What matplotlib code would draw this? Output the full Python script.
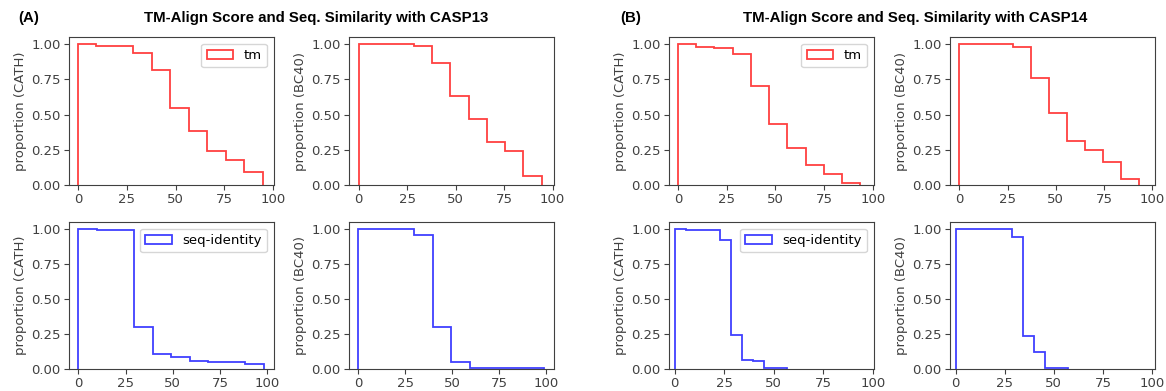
import numpy as np
import matplotlib
matplotlib.use("Agg")
import matplotlib.pyplot as plt

# reverse-cumulative proportions per bin (10 bins each)
# (A) CASP13
a_tm_cath_range = (0.0, 94.7)
a_tm_cath = [1.0, 0.99, 0.99, 0.94, 0.815, 0.55, 0.38, 0.24, 0.175, 0.09]
a_tm_bc40_range = (0.0, 94.4)
a_tm_bc40 = [1.0, 1.0, 1.0, 0.99, 0.865, 0.635, 0.47, 0.305, 0.24, 0.06]
a_seq_cath_range = (0.0, 98.2)
a_seq_cath = [1.0, 0.99, 0.99, 0.30, 0.105, 0.088, 0.057, 0.05, 0.05, 0.04]
a_seq_bc40_range = (0.0, 98.8)
a_seq_bc40 = [1.0, 1.0, 1.0, 0.96, 0.30, 0.048, 0.008, 0.008, 0.008, 0.008]

# (B) CASP14
b_tm_cath_range = (0.0, 93.5)
b_tm_cath = [1.0, 0.98, 0.97, 0.93, 0.70, 0.43, 0.26, 0.14, 0.075, 0.016]
b_tm_bc40_range = (0.0, 93.1)
b_tm_bc40 = [1.0, 1.0, 1.0, 0.98, 0.76, 0.51, 0.31, 0.25, 0.16, 0.045]
b_seq_cath_range = (0.0, 56.5)
b_seq_cath = [1.0, 0.99, 0.99, 0.99, 0.92, 0.245, 0.065, 0.055, 0.01, 0.01]
b_seq_bc40_range = (0.0, 57.0)
b_seq_bc40 = [1.0, 1.0, 1.0, 1.0, 1.0, 0.94, 0.24, 0.12, 0.01, 0.01]

titles = ["TM-Align Score and Seq. Similarity with CASP13",
          "TM-Align Score and Seq. Similarity with CASP14"]
panel_tags = ["(A)", "(B)"]

fig = plt.figure(figsize=(11.66, 3.91), dpi=100)

tick_col = "#404040"


def step_panel(rect, rng, vals, color, ylabel, label=None, xlim=None):
    ax = fig.add_axes(rect)
    edges = np.linspace(rng[0], rng[1], len(vals) + 1)
    ax.hist(edges[:-1], bins=edges, weights=vals, histtype="step",
            color=color, alpha=0.75, linewidth=1.3, label=label)
    ax.set_yticks([0, 0.25, 0.5, 0.75, 1.0])
    ax.set_xticks([0, 25, 50, 75, 100])
    if xlim:
        ax.set_xlim(*xlim)
    ax.set_ylabel(ylabel, fontsize=9.5, color=tick_col, labelpad=3)
    ax.tick_params(labelsize=9.5, colors=tick_col, pad=2.5)
    for s in ax.spines.values():
        s.set_color(tick_col)
    if label:
        ax.legend(loc="upper right", fontsize=9.5)
    return ax


w = 0.1755
top = (0.527, 0.378)
bot = (0.056, 0.376)
lefts = [0.0592, 0.2993, 0.5738, 0.8148]

# (A)
step_panel([lefts[0], top[0], w, top[1]], a_tm_cath_range, a_tm_cath, "red",
           "proportion (CATH)", "tm", (-4.6, 100.3))
step_panel([lefts[1], top[0], w, top[1]], a_tm_bc40_range, a_tm_bc40, "red",
           "proportion (BC40)", None, (-5.0, 100.5))
step_panel([lefts[0], bot[0], w, bot[1]], a_seq_cath_range, a_seq_cath, "blue",
           "proportion (CATH)", "seq-identity", (-4.9, 103.3))
step_panel([lefts[1], bot[0], w, bot[1]], a_seq_bc40_range, a_seq_bc40, "blue",
           "proportion (BC40)", None, (-5.0, 104.0))

# (B)
step_panel([lefts[2], top[0], w, top[1]], b_tm_cath_range, b_tm_cath, "red",
           "proportion (CATH)", "tm", (-4.5, 100.3))
step_panel([lefts[3], top[0], w, top[1]], b_tm_bc40_range, b_tm_bc40, "red",
           "proportion (BC40)", None, (-4.8, 101.3))
step_panel([lefts[2], bot[0], w, bot[1]], b_seq_cath_range, b_seq_cath, "blue",
           "proportion (CATH)", "seq-identity", (-2.9, 100.5))
step_panel([lefts[3], bot[0], w, bot[1]], b_seq_bc40_range, b_seq_bc40, "blue",
           "proportion (BC40)", None, (-2.9, 101.4))

fig.text(0.0155, 0.953, panel_tags[0], fontsize=10.8, fontweight="bold",
         family="Liberation Sans", va="center")
fig.text(0.271, 0.953, titles[0], fontsize=10.8, fontweight="bold",
         family="Liberation Sans", va="center", ha="center")
fig.text(0.532, 0.953, panel_tags[1], fontsize=10.8, fontweight="bold",
         family="Liberation Sans", va="center")
fig.text(0.785, 0.953, titles[1], fontsize=10.8, fontweight="bold",
         family="Liberation Sans", va="center", ha="center")

fig.savefig("out.png", dpi=100)
